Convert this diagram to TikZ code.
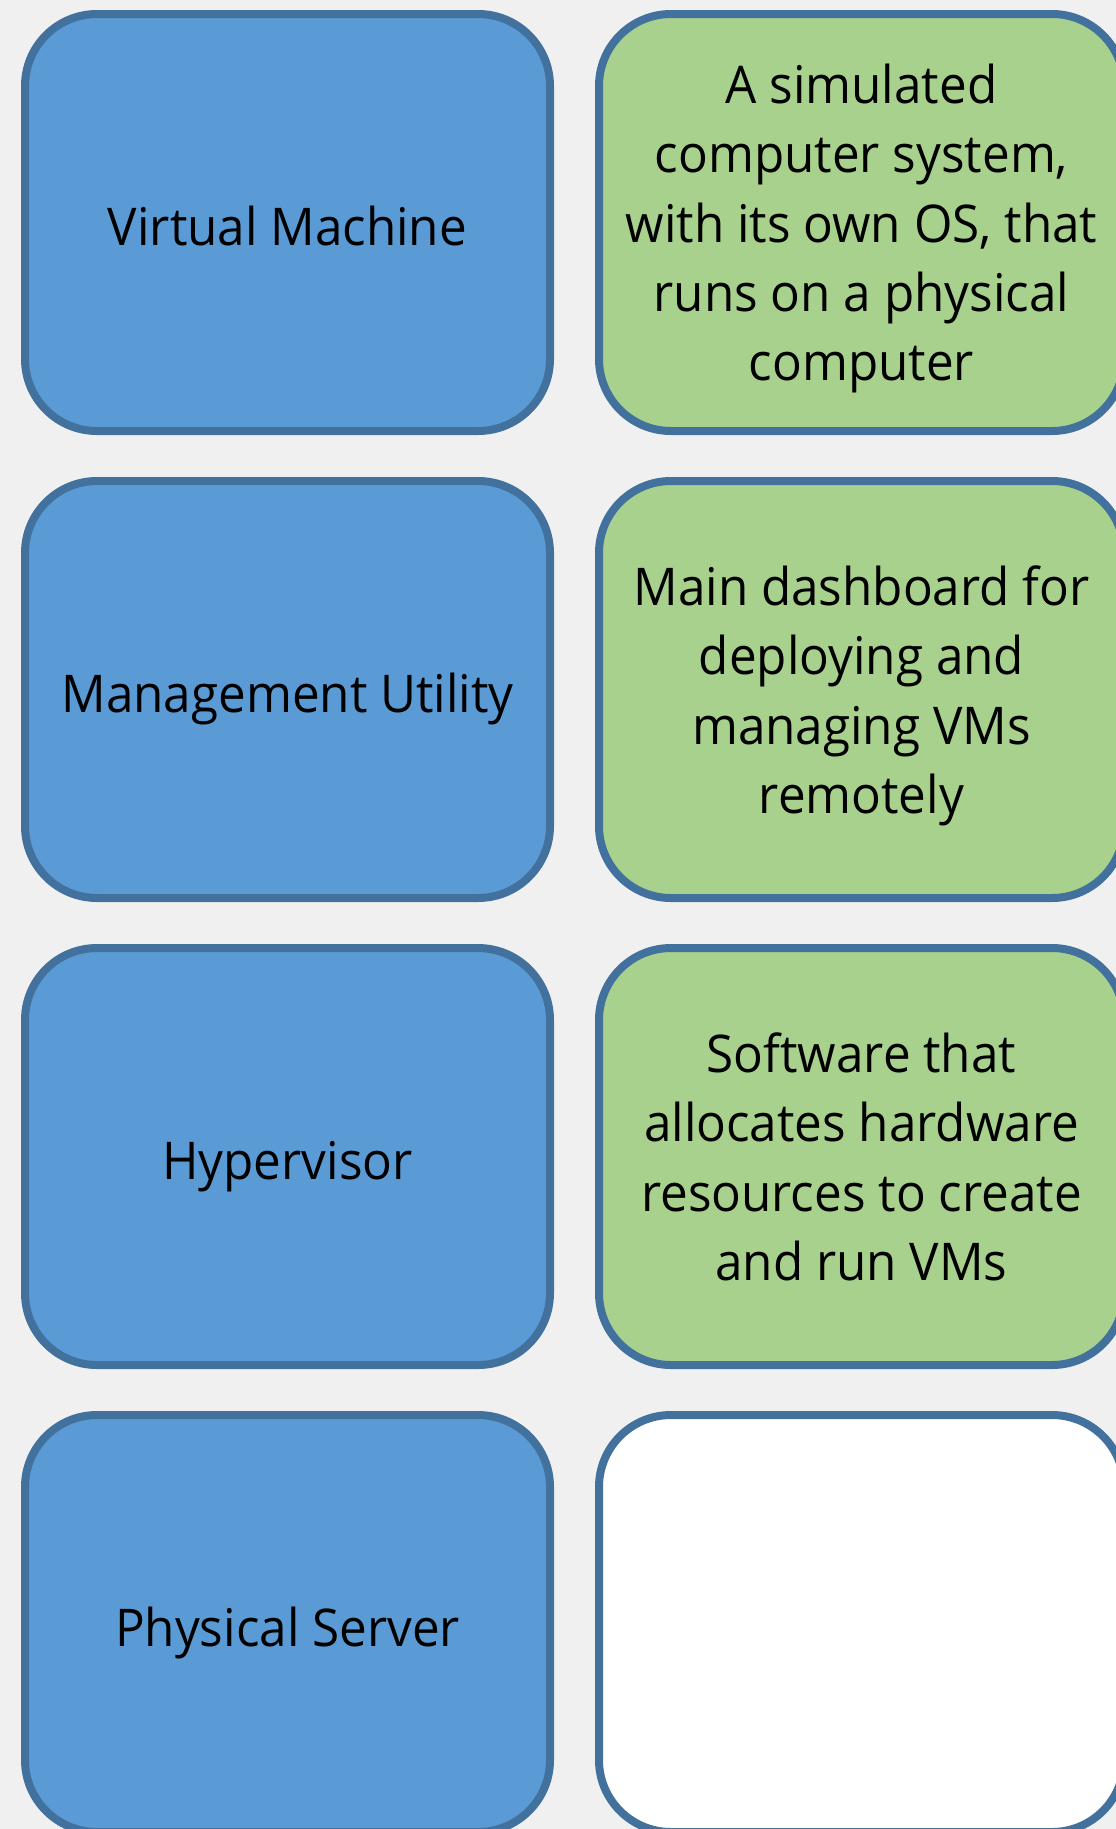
\documentclass[tikz,border=0pt]{standalone}
\usepackage{fontspec}
\setmainfont[FakeStretch=0.95]{Open Sans}
\usetikzlibrary{positioning}

\definecolor{pagebg}{HTML}{F0F0F0}
\definecolor{termblue}{HTML}{5B9BD5}
\definecolor{defgreen}{HTML}{A9D18E}
\definecolor{cardline}{HTML}{41719C}

\tikzset{
  card/.style={rectangle, draw=cardline, line width=6pt, rounded corners=54pt,
    minimum width=393.75pt, minimum height=312.75pt, align=center,
    font=\fontsize{39}{52}\selectfont, text=black},
  term/.style={card, fill=termblue,
    execute at begin node={\rule[-10pt]{0pt}{54pt}}},
  meaning/.style={card, fill=defgreen, text depth=-9pt},
  blank/.style={card, fill=white}
}

\begin{document}
\begin{tikzpicture}[x=0.75pt,y=-0.75pt]
  \fill[pagebg] (0,0) rectangle (1116,1829);
  \useasboundingbox (0,0) rectangle (1116,1829);
  \clip (0,0) rectangle (1116,1829);
  % terms on the left
  \begin{scope}[every node/.style={term}]
    \node (vm) at (287.5,222.5) {Virtual Machine};
    \node (mgmt) at (287.5,689.5) {Management Utility};
    \node (hyper) at (287.5,1156.5) {Hypervisor};
    \node (server) at (287.5,1623.5) {Physical Server};
  \end{scope}
  % meanings on the right
  \begin{scope}[every node/.style={meaning}]
    \node (vmdef) at (861.5,222.5) {A simulated\\computer system,\\with its own OS, that\\runs on a physical\\computer};
    \node (mgmtdef) at (861.5,689.5) {Main dashboard for\\deploying and\\managing VMs\\remotely};
    \node (hyperdef) at (861.5,1156.5) {Software that\\allocates hardware\\resources to create\\and run VMs};
  \end{scope}
  \node[blank] (serverdef) at (861.5,1623.5) {};
\end{tikzpicture}
\end{document}
